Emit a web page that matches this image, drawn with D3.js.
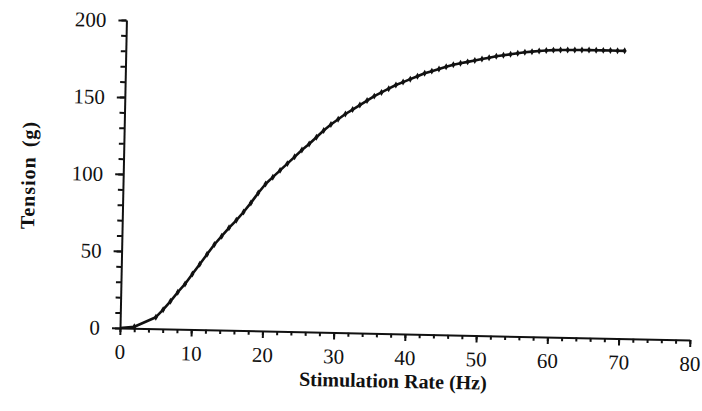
<!DOCTYPE html>
<html>
<head>
<meta charset="utf-8">
<script src="https://cdn.jsdelivr.net/npm/d3@7"></script>
<style>
  html, body { margin: 0; padding: 0; background: #fff; }
  svg { display: block; }
  .axis text { font-family: "Liberation Serif", "Times New Roman", serif; font-size: 21px; fill: #111; }
  .axis path, .axis line { stroke: #111; stroke-width: 2; }
  .title { font-family: "Liberation Serif", "Times New Roman", serif; font-size: 20px; font-weight: bold; fill: #111; }
</style>
</head>
<body>
<div id="chart"></div>
<script>
// values
const rateHz = [0, 2, 5, 6, 7, 8, 9, 10, 11, 12, 13, 14, 15, 16, 17, 18, 19, 20,
  21, 22, 23, 24, 25, 26, 27, 28, 29, 30, 31, 32, 33, 34, 35, 36, 37, 38, 39, 40,
  41, 42, 43, 44, 45, 46, 47, 48, 49, 50, 51, 52, 53, 54, 55, 56, 57, 58, 59, 60,
  61, 62, 63, 64, 65, 66, 67, 68, 69, 70];
const tensionG = [0, 1, 7.5, 12.5, 18, 24, 29.5, 36, 42.5, 49, 55.5, 61, 66.5, 71.5, 77, 83, 89.5, 95.5,
  100, 104.5, 109, 113.5, 118, 122, 126.5, 131, 135, 138.5, 142, 145, 148, 151, 154, 156.5, 159, 161.5, 163.5, 165.5,
  167.5, 169.5, 171, 172.5, 174, 175.5, 176.5, 177.5, 178.5, 179.5, 180.5, 181.5, 182.3, 183, 183.8, 184.5, 185, 185.5, 186, 186.3,
  186.5, 186.6, 186.7, 186.8, 186.8, 186.8, 186.8, 186.8, 186.8, 186.8];
const xTicks = [0, 10, 20, 30, 40, 50, 60, 70, 80];
const yTicks = [0, 50, 100, 150, 200];

const width = 702;
const height = 411;
const originX = 120;
const originY = 328;
const skew = 1.2; // the scan is turned slightly clockwise

const svg = d3.select('#chart').append('svg')
    .attr('width', width)
    .attr('height', height);

const g = svg.append('g')
    .attr('transform', `rotate(${skew}, ${originX}, ${originY})`);

const x = d3.scaleLinear().domain([0, 80]).range([originX, 690]);
const y = d3.scaleLinear().domain([0, 200]).range([originY, 20]);

// minor ticks first, then the main axes on top
g.append('g')
    .attr('class', 'axis')
    .attr('transform', `translate(0,${originY})`)
    .call(d3.axisBottom(x).tickValues(d3.range(0, 81, 2)).tickSize(4).tickFormat(''))
    .call(a => a.select('.domain').remove());

g.append('g')
    .attr('class', 'axis')
    .attr('transform', `translate(${originX},0)`)
    .call(d3.axisLeft(y).tickValues(d3.range(0, 201, 10)).tickSize(5).tickFormat(''))
    .call(a => a.select('.domain').remove());

g.append('g')
    .attr('class', 'axis')
    .attr('transform', `translate(0,${originY})`)
    .call(d3.axisBottom(x).tickValues(xTicks).tickSize(7).tickSizeOuter(0).tickPadding(9));

g.append('g')
    .attr('class', 'axis')
    .attr('transform', `translate(${originX},0)`)
    .call(d3.axisLeft(y).tickValues(yTicks).tickSize(8).tickSizeOuter(0).tickPadding(12));

// axis titles
g.append('text')
    .attr('class', 'title')
    .attr('x', 394)
    .attr('y', 382)
    .attr('text-anchor', 'middle')
    .text('Stimulation Rate (Hz)');

g.append('text')
    .attr('class', 'title')
    .attr('transform', 'translate(32,177) rotate(-90)')
    .attr('text-anchor', 'middle')
    .attr('letter-spacing', '1px')
    .attr('word-spacing', '3px')
    .text('Tension (g)');

const points = rateHz.map((r, i) => ({ r, t: tensionG[i] }));

const line = d3.line()
    .x(d => x(d.r))
    .y(d => y(d.t));

g.append('path')
    .datum(points)
    .attr('fill', 'none')
    .attr('stroke', '#111')
    .attr('stroke-width', 2.6)
    .attr('stroke-linejoin', 'round')
    .attr('d', line);

g.selectAll('.pt')
    .data(points.slice(1))
    .enter()
    .append('path')
    .attr('class', 'pt')
    .attr('transform', d => `translate(${x(d.r)},${y(d.t)})`)
    .attr('d', d3.symbol().type(d3.symbolDiamond).size(14))
    .attr('fill', '#111');
</script>
</body>
</html>
